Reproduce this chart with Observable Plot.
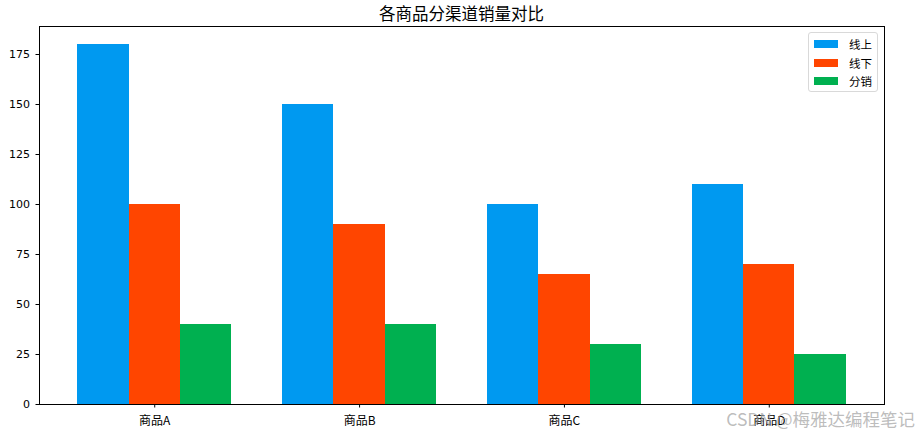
<!DOCTYPE html>
<html>
<head>
<meta charset="utf-8">
<script src="https://cdn.jsdelivr.net/npm/d3@7"></script>
<script src="https://cdn.jsdelivr.net/npm/@observablehq/plot@0.6"></script>
<style>
  html, body { margin: 0; padding: 0; background: #fff; }
  #wrap { position: relative; width: 919px; height: 435px; overflow: hidden; }
  #title { height: 22px; line-height: 26px; text-align: center; font-family: "Noto Sans CJK SC", sans-serif; font-size: 16.5px; color: #000; padding-left: 4px; }
  #legend { position: absolute; left: 808px; top: 32px; width: 68px; height: 58px; border: 1px solid #d9d9d9; border-radius: 3px; background: rgba(255,255,255,0.8); font-family: "Noto Sans CJK SC", sans-serif; font-size: 11.5px; }
  .item { position: absolute; left: 5px; height: 14px; display: flex; align-items: center; }
  .sw { width: 24px; height: 8px; margin-right: 11px; }
  #wm { position: absolute; right: 4px; top: 406px; font-family: "Noto Sans CJK SC", "DejaVu Sans", sans-serif; font-size: 17.5px; color: rgba(160,160,160,0.7); white-space: nowrap; }
</style>
</head>
<body>
<div id="wrap">
  <div id="title"></div>
  <div id="chart"></div>
  <div id="legend"></div>
  <div id="wm">CSDN @梅雅达编程笔记</div>
</div>
<script>
const titleText = "各商品分渠道销量对比";
const categories = ["商品A", "商品B", "商品C", "商品D"];
const series = ["线上", "线下", "分销"];
const online = [180, 150, 100, 110];
const offline = [100, 90, 65, 70];
const distribution = [40, 40, 30, 25];
const colors = ["#0099F0", "#FF4500", "#00B050"];
const yTicks = [0, 25, 50, 75, 100, 125, 150, 175];

const seriesValues = [online, offline, distribution];
const barWidth = 0.25;
const rows = [];
categories.forEach((c, i) => {
  series.forEach((s, j) => {
    const center = i + (j - 1) * barWidth;
    rows.push({category: c, series: s, value: seriesValues[j][i], x1: center - barWidth / 2, x2: center + barWidth / 2});
  });
});

document.getElementById("title").textContent = titleText;

const chart = Plot.plot({
  width: 919,
  height: 413,
  marginTop: 4,
  marginBottom: 31,
  marginLeft: 39,
  marginRight: 35,
  x: {domain: [-0.5625, 3.5625]},
  y: {domain: [0, 189]},
  color: {domain: series, range: colors},
  style: {background: "#fff", color: "#000"},
  marks: [
    Plot.rectY(rows, {x1: "x1", x2: "x2", y: "value", fill: "series", inset: 0, shapeRendering: "crispEdges"}),
    Plot.axisY({ticks: yTicks, tickSize: 3.5, tickPadding: 6, label: null, fontSize: 11, fontFamily: "DejaVu Sans, sans-serif", stroke: "#000"}),
    Plot.axisX({ticks: d3.range(categories.length), tickFormat: i => categories[i], tickSize: 3.5, tickPadding: 8, label: null, fontSize: 12, fontFamily: "Noto Sans CJK SC, sans-serif", stroke: "#000"}),
    Plot.frame({stroke: "#000", strokeWidth: 1})
  ]
});
document.getElementById("chart").appendChild(chart);

const legend = document.getElementById("legend");
series.forEach((s, j) => {
  const item = document.createElement("div");
  item.className = "item";
  item.style.top = (4 + j * 18.5) + "px";
  const sw = document.createElement("div");
  sw.className = "sw";
  sw.style.background = colors[j];
  const lab = document.createElement("span");
  lab.textContent = s;
  item.appendChild(sw);
  item.appendChild(lab);
  legend.appendChild(item);
});
</script>
</body>
</html>
